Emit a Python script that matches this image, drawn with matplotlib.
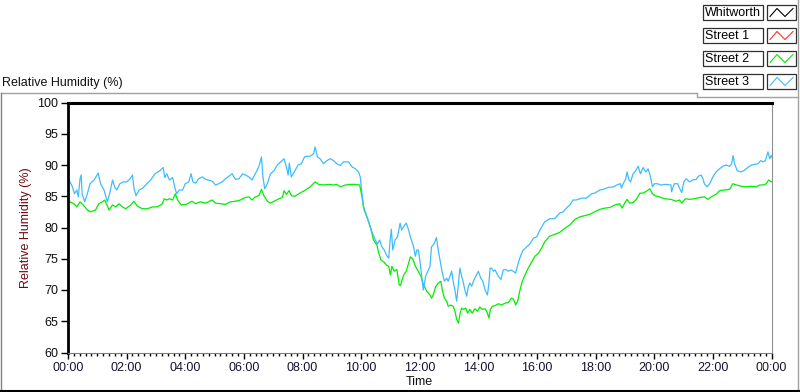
import matplotlib
matplotlib.use("Agg")
from matplotlib import pyplot as plt
from matplotlib.patches import Rectangle

# time in hours since 00:00, relative humidity in %
t_street3 = [0.0, 0.07, 0.15, 0.22, 0.3, 0.35, 0.41, 0.45, 0.48, 0.57, 0.66, 0.75, 0.89, 1.03, 1.11, 1.23,
             1.34, 1.42, 1.52, 1.59, 1.66, 1.77, 1.89, 2.0, 2.12, 2.2, 2.25, 2.32, 2.43, 2.55, 2.69, 2.82,
             2.97, 3.14, 3.25, 3.3, 3.37, 3.46, 3.57, 3.65, 3.71, 3.8, 3.91, 4.0, 4.12, 4.2, 4.26, 4.35,
             4.46, 4.58, 4.69, 4.8, 4.92, 5.03, 5.14, 5.26, 5.37, 5.49, 5.6, 5.71, 5.83, 5.96, 6.05, 6.17,
             6.28, 6.39, 6.51, 6.6, 6.65, 6.71, 6.8, 6.91, 7.03, 7.14, 7.26, 7.37, 7.45, 7.51, 7.55, 7.62,
             7.74, 7.85, 7.96, 8.07, 8.15, 8.26, 8.38, 8.43, 8.51, 8.6, 8.72, 8.83, 8.95, 9.06, 9.17, 9.29,
             9.4, 9.57, 9.69, 9.8, 9.91, 9.97, 10.03, 10.1, 10.2, 10.29, 10.37, 10.48, 10.56, 10.63, 10.71,
             10.79, 10.86, 10.94, 10.99, 11.03, 11.08, 11.16, 11.24, 11.33, 11.38, 11.46, 11.54, 11.62,
             11.68, 11.79, 11.85, 11.9, 11.95, 12.0, 12.12, 12.17, 12.2, 12.35, 12.4, 12.49, 12.57, 12.63,
             12.69, 12.76, 12.84, 12.92, 12.97, 13.03, 13.09, 13.14, 13.2, 13.26, 13.32, 13.37, 13.43,
             13.49, 13.54, 13.6, 13.66, 13.71, 13.77, 13.83, 13.91, 14.0, 14.08, 14.15, 14.23, 14.31,
             14.36, 14.4, 14.45, 14.51, 14.57, 14.68, 14.77, 14.85, 14.93, 15.02, 15.11, 15.19, 15.27,
             15.36, 15.45, 15.53, 15.65, 15.76, 15.88, 15.99, 16.1, 16.26, 16.43, 16.6, 16.77, 16.89, 17.0,
             17.12, 17.23, 17.34, 17.52, 17.69, 17.86, 17.97, 18.14, 18.26, 18.43, 18.6, 18.77, 18.85,
             18.88, 18.94, 19.03, 19.07, 19.14, 19.19, 19.28, 19.37, 19.45, 19.53, 19.62, 19.71, 19.79,
             19.87, 19.94, 20.0, 20.11, 20.23, 20.4, 20.57, 20.59, 20.68, 20.8, 20.89, 20.94, 21.01, 21.09,
             21.2, 21.31, 21.43, 21.51, 21.6, 21.66, 21.71, 21.8, 21.89, 22.0, 22.11, 22.23, 22.34, 22.45,
             22.57, 22.64, 22.69, 22.74, 22.83, 22.94, 23.06, 23.19, 23.31, 23.42, 23.54, 23.63, 23.71,
             23.79, 23.88, 23.94, 23.99, 24.0]
rh_street3 = [87.5, 87.3, 86.5, 85.4, 86.0, 84.9, 87.8, 88.4, 85.4, 84.1, 85.4, 87.0, 87.6, 88.7, 87.0, 86.0,
              84.1, 85.4, 87.6, 86.5, 86.0, 87.0, 87.3, 87.3, 87.8, 88.4, 86.3, 85.1, 86.0, 86.3, 87.0, 87.6,
              88.6, 89.1, 89.6, 88.0, 88.6, 87.6, 88.0, 86.3, 85.4, 86.0, 86.0, 87.0, 87.3, 88.6, 87.3, 87.1,
              87.8, 88.1, 87.7, 87.6, 87.4, 86.8, 87.0, 87.3, 87.8, 88.2, 88.6, 87.7, 87.8, 88.6, 88.4, 88.1,
              87.6, 88.6, 89.7, 91.3, 88.1, 86.2, 87.0, 88.6, 89.1, 90.0, 90.5, 91.0, 89.7, 88.4, 90.3, 88.1,
              89.1, 90.0, 90.2, 91.3, 91.4, 91.4, 91.8, 92.9, 91.3, 91.0, 90.2, 90.7, 91.0, 90.7, 90.2, 89.9,
              90.5, 90.5, 89.7, 89.4, 88.9, 88.1, 85.4, 82.8, 81.7, 80.4, 79.3, 78.0, 77.4, 78.0, 76.9,
              76.4, 75.6, 75.1, 78.0, 79.7, 76.4, 78.0, 78.5, 80.7, 79.6, 80.2, 80.7, 79.6,
              78.5, 76.9, 75.4, 76.4, 76.4, 74.9, 70.0, 71.3, 72.2, 73.8, 76.9, 77.4, 78.4, 76.4,
              74.8, 73.0, 71.4, 71.9, 71.4, 72.2, 73.0, 71.4, 70.0, 68.2, 71.1, 73.5, 72.2,
              71.1, 70.0, 69.0, 70.6, 71.1, 70.6, 71.4, 72.2, 73.0, 71.9, 71.4, 70.0, 69.2,
              71.1, 73.5, 73.5, 73.0, 73.2, 72.2, 71.7, 73.2, 73.3, 73.0, 73.2, 73.0, 72.7,
              74.3, 75.6, 76.4, 76.9, 77.4, 78.3, 78.5, 79.6, 80.9, 81.4, 81.4, 82.3, 82.5, 83.1,
              83.6, 84.4, 84.4, 84.7, 84.7, 85.4, 85.5, 86.0, 86.1, 86.4, 86.5, 86.9, 87.0,
              86.3, 87.0, 87.8, 88.9, 87.6, 87.3, 88.6, 89.1, 89.8, 88.6, 89.6, 88.9, 89.4,
              88.1, 86.5, 87.0, 87.0, 86.8, 86.9, 86.8, 85.7, 87.0, 87.0, 86.0, 85.6, 87.3, 87.8,
              87.3, 87.6, 87.7, 88.2, 88.4, 87.8, 87.0, 86.5, 87.0, 88.1, 88.9, 89.4, 89.8, 90.0,
              89.8, 90.2, 91.5, 90.2, 89.1, 88.9, 89.1, 89.6, 90.0, 90.1, 90.2, 90.7, 90.5,
              90.7, 92.1, 91.0, 91.5, 91.3]

t_street2 = [0.0, 0.07, 0.2, 0.3, 0.41, 0.52, 0.66, 0.77, 0.94, 1.05, 1.17, 1.25, 1.31, 1.4, 1.52, 1.63,
             1.74, 1.86, 1.97, 2.14, 2.25, 2.37, 2.54, 2.71, 2.88, 3.05, 3.22, 3.28, 3.37, 3.46, 3.57, 3.66,
             3.74, 3.86, 4.03, 4.23, 4.35, 4.52, 4.69, 4.92, 5.03, 5.2, 5.37, 5.54, 5.71, 5.88, 6.05, 6.17,
             6.28, 6.39, 6.51, 6.6, 6.68, 6.8, 6.91, 7.03, 7.2, 7.31, 7.37, 7.45, 7.54, 7.62, 7.74, 7.91,
             8.07, 8.26, 8.43, 8.55, 8.72, 8.89, 9.06, 9.17, 9.29, 9.46, 9.63, 9.8, 9.95, 10.03, 10.08,
             10.14, 10.22, 10.31, 10.37, 10.42, 10.54, 10.6, 10.68, 10.77, 10.86, 10.94, 11.0, 11.05,
             11.13, 11.22, 11.3, 11.34, 11.45, 11.54, 11.62, 11.68, 11.77, 11.85, 11.95, 12.04, 12.13,
             12.24, 12.35, 12.4, 12.46, 12.54, 12.63, 12.72, 12.77, 12.84, 12.92, 12.97, 13.06, 13.14,
             13.2, 13.26, 13.32, 13.37, 13.43, 13.49, 13.57, 13.63, 13.71, 13.79, 13.88, 13.97, 14.05,
             14.13, 14.23, 14.31, 14.36, 14.41, 14.48, 14.57, 14.68, 14.79, 14.91, 15.02, 15.13, 15.2,
             15.27, 15.34, 15.42, 15.5, 15.59, 15.7, 15.82, 15.93, 16.05, 16.16, 16.26, 16.43, 16.6,
             16.77, 16.95, 17.12, 17.29, 17.46, 17.63, 17.8, 17.97, 18.14, 18.31, 18.48, 18.65, 18.82,
             18.91, 18.99, 19.07, 19.16, 19.28, 19.39, 19.51, 19.62, 19.73, 19.85, 19.94, 20.02, 20.17,
             20.35, 20.57, 20.75, 20.86, 20.94, 21.06, 21.2, 21.37, 21.54, 21.71, 21.83, 21.94, 22.11,
             22.23, 22.4, 22.57, 22.68, 22.8, 22.97, 23.14, 23.31, 23.48, 23.6, 23.71, 23.82, 23.9,
             23.99, 24.0]
rh_street2 = [84.5, 84.1, 83.8, 83.3, 84.1, 83.6, 82.8, 82.5, 82.8, 83.8, 84.1, 84.4, 83.8, 82.8, 83.6, 83.3,
              83.8, 83.3, 83.0, 83.6, 84.2, 83.4, 83.0, 83.0, 83.3, 83.3, 83.8, 84.6, 84.4, 84.6, 84.4, 85.4,
              84.4, 83.6, 83.7, 84.2, 83.8, 84.1, 83.9, 84.4, 83.9, 83.8, 83.7, 84.1, 84.2, 84.4, 84.8, 84.9,
              84.4, 84.9, 85.1, 86.1, 85.1, 84.2, 83.9, 84.2, 84.6, 84.8, 85.9, 85.3, 85.9, 85.1, 85.0, 85.5,
              85.9, 86.5, 87.3, 86.9, 86.8, 86.9, 86.8, 86.9, 86.5, 86.8, 86.9, 86.9, 86.8, 84.9, 83.3,
              82.5, 81.4, 80.1, 79.1, 78.0, 77.2, 75.9, 74.8, 74.5, 74.0, 73.8, 72.4, 73.8,
              73.0, 73.3, 70.8, 70.7, 72.4, 73.0, 74.3, 75.3, 74.9, 73.8, 73.0, 72.2, 70.8,
              69.8, 69.2, 68.7, 69.2, 70.5, 71.1, 71.4, 70.0, 68.7, 68.2, 67.4, 67.6, 67.4,
              66.6, 65.3, 64.7, 66.1, 67.1, 66.9, 67.1, 66.3, 66.9, 66.3, 67.0, 66.6, 67.3,
              66.9, 67.0, 66.3, 65.5, 66.9, 67.4, 67.5, 67.8, 67.6, 67.9, 68.0, 68.7, 68.5,
              67.6, 68.2, 70.0, 71.4, 72.4, 73.5, 74.5, 75.4, 75.9, 76.7, 77.7, 78.6, 78.9,
              79.2, 79.9, 80.4, 81.3, 81.7, 81.9, 82.1, 82.5, 82.9, 83.1, 83.2, 83.6, 83.8,
              83.1, 83.9, 84.5, 83.9, 84.0, 84.5, 85.5, 85.5, 85.8, 86.2, 85.4, 85.1, 84.9,
              84.6, 84.5, 84.2, 84.4, 83.9, 84.6, 84.5, 84.6, 84.8, 84.9, 84.5, 84.9, 85.3,
              85.9, 86.0, 86.1, 87.0, 86.8, 86.6, 86.5, 86.6, 86.5, 86.8, 86.8, 87.0, 87.6,
              87.3, 87.3]

t_whitworth = [0.0, 24.0]
rh_whitworth = [100.0, 100.0]

legend_names = ["Whitworth", "Street 1", "Street 2", "Street 3"]
legend_colors = ["#000000", "#ff3030", "#00ee00", "#3fbcff"]

xtick_pos = list(range(0, 25, 2))
xtick_labels = ["%02d:00" % (h % 24) for h in xtick_pos]
ytick_pos = list(range(60, 101, 5))

plt.rcParams['font.family'] = ['Liberation Sans', 'DejaVu Sans']
plt.rcParams['font.size'] = 9

fig = plt.figure(figsize=(8, 3.92), dpi=100)

# panel frame, legend and title drawn in pixel coordinates
frame = fig.add_axes([0, 0, 1, 1])
frame.set_xlim(0, 800)
frame.set_ylim(392, 0)
frame.axis('off')
frame.plot([0.5, 697], [93, 93], color='#a0a0a0', lw=1)
frame.plot([697, 697, 798], [93, 96.5, 96.5], color='#a0a0a0', lw=1)
frame.plot([0.8, 0.8], [93, 391], color='#808080', lw=1)
frame.plot([798, 798], [0, 391], color='#a0a0a0', lw=1)
frame.plot([0, 800], [391, 391], color='#000000', lw=1.5)
frame.text(2, 83, "Relative Humidity (%)", va='center', ha='left', color='#101010')

row_top = [4.5, 27.5, 50.5, 73.5]
for name, col, y0 in zip(legend_names, legend_colors, row_top):
    frame.add_patch(Rectangle((703, y0), 59.5, 15, fill=False, ec='#303030', lw=0.9))
    frame.add_patch(Rectangle((767, y0), 29, 15, fill=False, ec='#303030', lw=0.9))
    frame.text(705, y0 + 8.3, name, va='center', ha='left', color='#000000')
    frame.plot([770, 777, 785, 793], [y0 + 12, y0 + 4, y0 + 12, y0 + 4], color=col, lw=0.8)

ax = fig.add_axes([68 / 800, (392 - 352.5) / 392, 703.5 / 800, 250 / 392])
ax.plot(t_street2, rh_street2, color=legend_colors[2], lw=0.9)
ax.plot(t_street3, rh_street3, color=legend_colors[3], lw=0.9)
ax.plot(t_whitworth, rh_whitworth, color=legend_colors[0], lw=2.2, clip_on=False, zorder=5)

ax.set_xlim(0, 24)
ax.set_ylim(60, 100)
ax.set_xticks(xtick_pos)
ax.set_xticklabels(xtick_labels, color='#1a1030')
ax.set_xticks([i * 0.2 for i in range(121)], minor=True)
ax.set_yticks(ytick_pos)
ax.set_yticklabels([str(v) for v in ytick_pos], color='#101010')
ax.tick_params(axis='x', which='major', direction='out', length=4, width=1, pad=3)
ax.tick_params(axis='x', which='minor', direction='out', length=2.5, width=1)
ax.tick_params(axis='y', which='major', direction='out', length=5, width=1, pad=2)

ax.spines['top'].set_visible(False)
ax.spines['left'].set_linewidth(2)
ax.spines['left'].set_color('#000000')
ax.spines['bottom'].set_color('#808080')
ax.spines['right'].set_color('#909090')

ax.set_xlabel("Time", labelpad=1, color='#101010')
ax.set_ylabel("Relative Humidity (%)", color='#6a0a10', labelpad=4)

plt.savefig("out.png", dpi=100)
plt.close()
